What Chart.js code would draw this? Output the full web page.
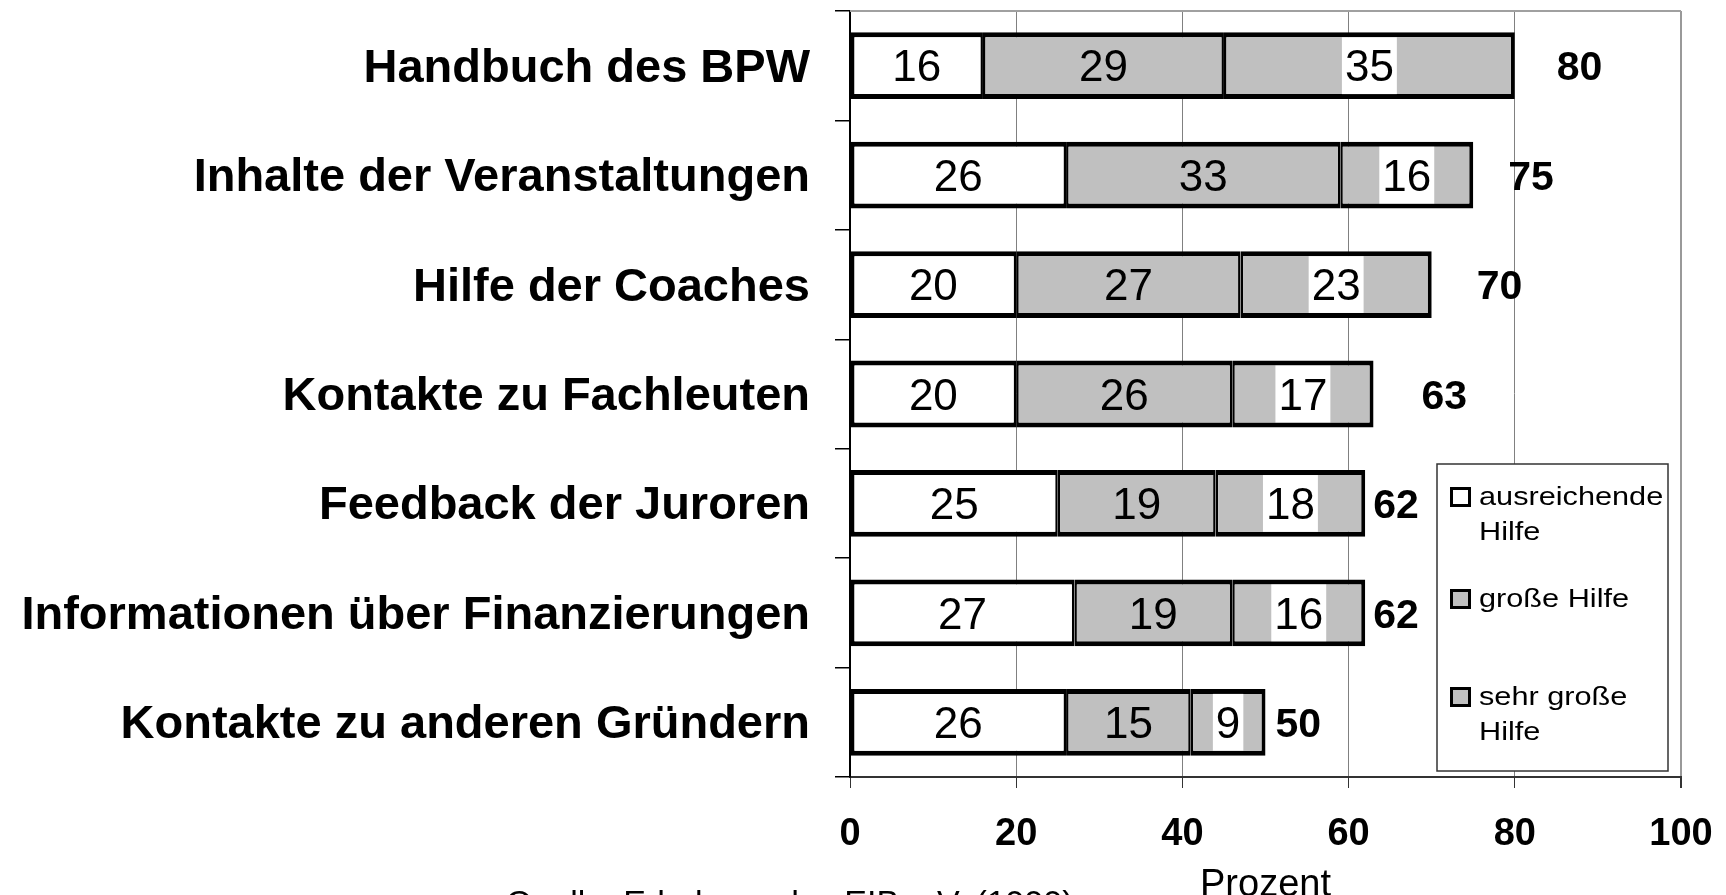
<!DOCTYPE html>
<html lang="de">
<head>
<meta charset="utf-8">
<title>Hilfe durch den BPW</title>
<script src="https://cdn.jsdelivr.net/npm/chart.js@4.4.1/dist/chart.umd.min.js"></script>
<style>
  html, body { margin: 0; padding: 0; background: #fff; }
  #wrap { width: 1726px; height: 895px; position: relative; }
</style>
</head>
<body>
<div id="wrap"><canvas id="bpwChart"></canvas></div>
<script>
// Daten (Prozent), von oben nach unten
const categories = [
  "Handbuch des BPW",
  "Inhalte der Veranstaltungen",
  "Hilfe der Coaches",
  "Kontakte zu Fachleuten",
  "Feedback der Juroren",
  "Informationen über Finanzierungen",
  "Kontakte zu anderen Gründern"
];
const ausreichend = [16, 26, 20, 20, 25, 27, 26];
const grosse = [29, 33, 27, 26, 19, 19, 15];
const sehrGrosse = [35, 16, 23, 17, 18, 16, 9];
const totals = [80, 75, 70, 63, 62, 62, 50];
const xTicks = [0, 20, 40, 60, 80, 100];
const legendLabels = [["ausreichende", "Hilfe"], ["große Hilfe"], ["sehr große", "Hilfe"]];
const axisTitle = "Prozent";
const sourceText = "Quelle: Erhebung des EIB e.V. (1999)";

// Abstand der Summen rechts vom Balkenende (px) – wie im Original unregelmäßig
const totalGap = [42, 35, 45, 48, 8, 8, 10];

const FONT = '"Liberation Sans", Arial, Helvetica, sans-serif';
Chart.defaults.font.family = FONT;
Chart.defaults.color = "#000";

const GREY = "#c0c0c0";

// Beschriftungen in den Balken + Summen + Legende
const labelPlugin = {
  id: "bpwLabels",
  beforeDatasetsDraw(chart) {
    const { ctx, chartArea: ca } = chart;
    ctx.save();
    ctx.strokeStyle = "#a0a0a0";
    ctx.lineWidth = 2;
    ctx.beginPath();
    ctx.moveTo(ca.left, ca.top);
    ctx.lineTo(ca.right, ca.top);
    ctx.stroke();
    ctx.restore();
  },
  afterDatasetsDraw(chart) {
    const ctx = chart.ctx;
    const xScale = chart.scales.x;
    ctx.save();
    ctx.textAlign = "center";
    ctx.textBaseline = "alphabetic";
    ctx.font = "44px " + FONT;
    chart.data.datasets.forEach((ds, di) => {
      const meta = chart.getDatasetMeta(di);
      meta.data.forEach((bar, i) => {
        const p = bar.getProps(["x", "y", "base", "height"], true);
        const cx = (p.x + p.base) / 2;
        const txt = String(ds.data[i]);
        if (di === 2) {
          const w = ctx.measureText(txt).width + 6;
          ctx.fillStyle = "#fff";
          ctx.fillRect(cx - w / 2, p.y - p.height / 2 + 5, w, p.height - 10);
        }
        ctx.fillStyle = "#000";
        ctx.fillText(txt, cx, p.y + 44 * 0.358);
      });
    });

    ctx.font = "bold 41px " + FONT;
    ctx.textAlign = "left";
    const meta = chart.getDatasetMeta(2);
    meta.data.forEach((bar, i) => {
      const x = xScale.getPixelForValue(totals[i]) + totalGap[i];
      ctx.fillText(String(totals[i]), x, bar.y + 41 * 0.358);
    });
    ctx.restore();
  },
  afterDraw(chart) {
    const { ctx, chartArea: ca } = chart;
    ctx.save();

    // Legende innerhalb der Zeichenfläche unten rechts
    const bx = ca.right - 244, by = ca.bottom - 313, bw = 231, bh = 307;
    ctx.fillStyle = "#fff";
    ctx.fillRect(bx, by, bw, bh);
    ctx.strokeStyle = "#333";
    ctx.lineWidth = 1.5;
    ctx.strokeRect(bx, by, bw, bh);

    const markerTop = [23, 125, 223];
    const fills = ["#fff", GREY, GREY];
    const baselines = [[41, 76], [143], [241, 276]];
    ctx.font = "26px " + FONT;
    ctx.textAlign = "left";
    legendLabels.forEach((lines, k) => {
      const mx = bx + 13, my = by + markerTop[k];
      ctx.fillStyle = fills[k];
      ctx.fillRect(mx, my, 21, 20);
      ctx.strokeStyle = "#000";
      ctx.lineWidth = 3;
      ctx.strokeRect(mx + 1.5, my + 1.5, 18, 17);
      ctx.fillStyle = "#000";
      lines.forEach((t, j) => {
        ctx.save();
        ctx.translate(bx + 42, by + baselines[k][j]);
        ctx.scale(1.18, 1);
        ctx.fillText(t, 0, 0);
        ctx.restore();
      });
    });

    // Achsentitel und Quelle
    ctx.fillStyle = "#000";
    ctx.font = "38px " + FONT;
    ctx.textAlign = "center";
    ctx.fillText(axisTitle, (ca.left + ca.right) / 2, 896);
    ctx.font = "34px " + FONT;
    ctx.textAlign = "left";
    ctx.fillText(sourceText, 506, 914);
    ctx.restore();
  }
};

function edgeWidths(k) {
  // gemeinsame Trennlinie zwischen Segmenten nicht doppelt zeichnen
  return {
    top: 5, bottom: 5,
    left: k === 0 ? 4 : 2.5,
    right: k === 2 ? 4 : 2.5
  };
}

const ctx = document.getElementById("bpwChart").getContext("2d");
new Chart(ctx, {
  type: "bar",
  data: {
    labels: categories,
    datasets: [
      { label: "ausreichende Hilfe", data: ausreichend, backgroundColor: "#fff", borderColor: "#000", borderWidth: edgeWidths(0), borderSkipped: false },
      { label: "große Hilfe", data: grosse, backgroundColor: GREY, borderColor: "#000", borderWidth: edgeWidths(1), borderSkipped: false },
      { label: "sehr große Hilfe", data: sehrGrosse, backgroundColor: GREY, borderColor: "#000", borderWidth: edgeWidths(2), borderSkipped: false }
    ]
  },
  options: {
    indexAxis: "y",
    responsive: true,
    maintainAspectRatio: false,
    animation: false,
    datasets: { bar: { barPercentage: 1, categoryPercentage: 0.61 } },
    layout: { padding: { top: 11, right: 45, left: 0, bottom: 0 } },
    plugins: {
      legend: { display: false },
      tooltip: { enabled: false }
    },
    scales: {
      x: {
        stacked: true,
        min: 0,
        max: 100,
        afterBuildTicks: s => { s.ticks = xTicks.map(v => ({ value: v })); },
        afterFit: s => { s.height = 118; s.paddingLeft = 0; s.paddingRight = 0; },
        border: { color: "#333", width: 2 },
        grid: {
          color: c => (c.tick && c.tick.value === 100 ? "#999" : "#808080"),
          lineWidth: c => (c.tick && c.tick.value === 100 ? 2 : 1),
          tickColor: "#333",
          tickLength: 11
        },
        ticks: {
          font: { size: 38, weight: "bold", lineHeight: 1.2 },
          color: "#000",
          padding: 24,
          maxRotation: 0
        }
      },
      y: {
        stacked: true,
        afterFit: s => { s.width = 850; s.paddingTop = 0; s.paddingBottom = 0; },
        border: { color: "#000", width: 2 },
        grid: {
          offset: true,
          drawOnChartArea: false,
          color: "#000",
          lineWidth: 1.5,
          tickLength: 15
        },
        ticks: {
          font: { size: 47, weight: "bold" },
          color: "#000",
          padding: 25,
          labelOffset: 3,
          autoSkip: false
        }
      }
    }
  },
  plugins: [labelPlugin]
});
</script>
</body>
</html>
